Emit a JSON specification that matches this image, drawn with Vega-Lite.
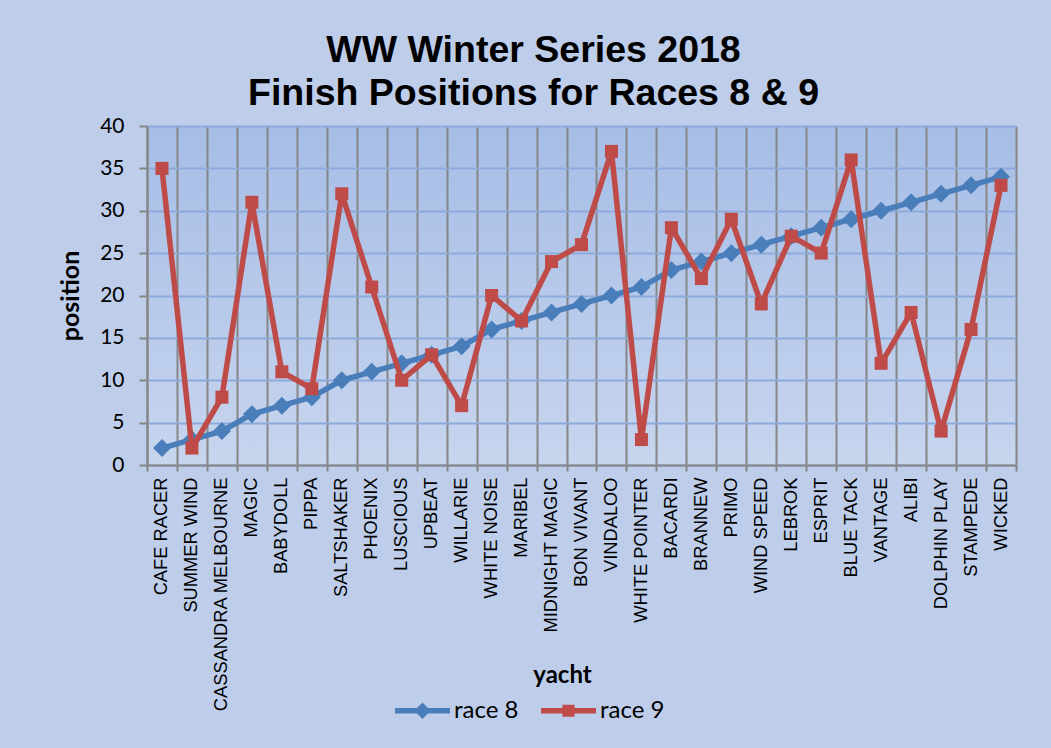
{
  "$schema": "https://vega.github.io/schema/vega-lite/v6.json",
  "width": 869,
  "height": 339,
  "autosize": "none",
  "padding": {"left": 147, "top": 126, "right": 35, "bottom": 283},
  "background": "#bdcdea",
  "title": {
    "text": ["WW Winter Series 2018", "Finish Positions for Races 8 & 9"],
    "font": "Liberation Sans",
    "fontSize": 37.5,
    "fontWeight": "bold",
    "color": "#000000",
    "lineHeight": 43,
    "anchor": "middle",
    "frame": "group",
    "dx": -48,
    "offset": 3
  },
  "config": {
    "view": {
      "stroke": null,
      "fill": {
        "gradient": "linear",
        "x1": 0, "y1": 0, "x2": 0, "y2": 1,
        "stops": [
          {"offset": 0, "color": "#a6bde6"},
          {"offset": 1, "color": "#c7d5ee"}
        ]
      }
    },
    "legend": {
      "orient": "none",
      "legendX": 248,
      "legendY": 557,
      "direction": "horizontal",
      "labelFont": "Lato",
      "labelFontSize": 24,
      "labelColor": "#000000",
      "symbolSize": 3025,
      "symbolOpacity": 1,
      "symbolStrokeWidth": 0,
      "labelOffset": 4,
      "columnPadding": 22
    }
  },
  "data": {
    "values": [
      {"yacht": "CAFE RACER", "race": "race 8", "position": 2},
      {"yacht": "SUMMER WIND", "race": "race 8", "position": 3},
      {"yacht": "CASSANDRA MELBOURNE", "race": "race 8", "position": 4},
      {"yacht": "MAGIC", "race": "race 8", "position": 6},
      {"yacht": "BABYDOLL", "race": "race 8", "position": 7},
      {"yacht": "PIPPA", "race": "race 8", "position": 8},
      {"yacht": "SALTSHAKER", "race": "race 8", "position": 10},
      {"yacht": "PHOENIX", "race": "race 8", "position": 11},
      {"yacht": "LUSCIOUS", "race": "race 8", "position": 12},
      {"yacht": "UPBEAT", "race": "race 8", "position": 13},
      {"yacht": "WILLARIE", "race": "race 8", "position": 14},
      {"yacht": "WHITE NOISE", "race": "race 8", "position": 16},
      {"yacht": "MARIBEL", "race": "race 8", "position": 17},
      {"yacht": "MIDNIGHT MAGIC", "race": "race 8", "position": 18},
      {"yacht": "BON VIVANT", "race": "race 8", "position": 19},
      {"yacht": "VINDALOO", "race": "race 8", "position": 20},
      {"yacht": "WHITE POINTER", "race": "race 8", "position": 21},
      {"yacht": "BACARDI", "race": "race 8", "position": 23},
      {"yacht": "BRANNEW", "race": "race 8", "position": 24},
      {"yacht": "PRIMO", "race": "race 8", "position": 25},
      {"yacht": "WIND SPEED", "race": "race 8", "position": 26},
      {"yacht": "LEBROK", "race": "race 8", "position": 27},
      {"yacht": "ESPRIT", "race": "race 8", "position": 28},
      {"yacht": "BLUE TACK", "race": "race 8", "position": 29},
      {"yacht": "VANTAGE", "race": "race 8", "position": 30},
      {"yacht": "ALIBI", "race": "race 8", "position": 31},
      {"yacht": "DOLPHIN PLAY", "race": "race 8", "position": 32},
      {"yacht": "STAMPEDE", "race": "race 8", "position": 33},
      {"yacht": "WICKED", "race": "race 8", "position": 34},
      {"yacht": "CAFE RACER", "race": "race 9", "position": 35},
      {"yacht": "SUMMER WIND", "race": "race 9", "position": 2},
      {"yacht": "CASSANDRA MELBOURNE", "race": "race 9", "position": 8},
      {"yacht": "MAGIC", "race": "race 9", "position": 31},
      {"yacht": "BABYDOLL", "race": "race 9", "position": 11},
      {"yacht": "PIPPA", "race": "race 9", "position": 9},
      {"yacht": "SALTSHAKER", "race": "race 9", "position": 32},
      {"yacht": "PHOENIX", "race": "race 9", "position": 21},
      {"yacht": "LUSCIOUS", "race": "race 9", "position": 10},
      {"yacht": "UPBEAT", "race": "race 9", "position": 13},
      {"yacht": "WILLARIE", "race": "race 9", "position": 7},
      {"yacht": "WHITE NOISE", "race": "race 9", "position": 20},
      {"yacht": "MARIBEL", "race": "race 9", "position": 17},
      {"yacht": "MIDNIGHT MAGIC", "race": "race 9", "position": 24},
      {"yacht": "BON VIVANT", "race": "race 9", "position": 26},
      {"yacht": "VINDALOO", "race": "race 9", "position": 37},
      {"yacht": "WHITE POINTER", "race": "race 9", "position": 3},
      {"yacht": "BACARDI", "race": "race 9", "position": 28},
      {"yacht": "BRANNEW", "race": "race 9", "position": 22},
      {"yacht": "PRIMO", "race": "race 9", "position": 29},
      {"yacht": "WIND SPEED", "race": "race 9", "position": 19},
      {"yacht": "LEBROK", "race": "race 9", "position": 27},
      {"yacht": "ESPRIT", "race": "race 9", "position": 25},
      {"yacht": "BLUE TACK", "race": "race 9", "position": 36},
      {"yacht": "VANTAGE", "race": "race 9", "position": 12},
      {"yacht": "ALIBI", "race": "race 9", "position": 18},
      {"yacht": "DOLPHIN PLAY", "race": "race 9", "position": 4},
      {"yacht": "STAMPEDE", "race": "race 9", "position": 16},
      {"yacht": "WICKED", "race": "race 9", "position": 33}
    ]
  },
  "encoding": {
    "x": {
      "field": "yacht",
      "type": "nominal",
      "sort": null,
      "scale": {"type": "band", "paddingInner": 0, "paddingOuter": 0},
      "axis": {
        "title": "yacht",
        "titleFont": "Lato",
        "titleFontSize": 24,
        "titleFontWeight": "bold",
        "titleColor": "#000000",
        "titleX": 415,
        "titleY": 210,
        "titleAlign": "center",
        "titleBaseline": "middle",
        "labelAngle": -90,
        "labelFont": "Liberation Sans",
        "labelFontSize": 18.3,
        "labelColor": "#000000",
        "labelPadding": 6,
        "labelLimit": 400,
        "labelOverlap": false,
        "tickBand": "extent",
        "tickSize": 6,
        "tickColor": "#868686",
        "tickWidth": 2,
        "domainColor": "#868686",
        "domainWidth": 2,
        "grid": true,
        "gridColor": "#868686",
        "gridWidth": 2
      }
    },
    "y": {
      "field": "position",
      "type": "quantitative",
      "scale": {"domain": [0, 40], "nice": false},
      "axis": {
        "title": "position",
        "titleFont": "Lato",
        "titleFontSize": 25,
        "titleFontWeight": "bold",
        "titleColor": "#000000",
        "titlePadding": 16,
        "values": [0, 5, 10, 15, 20, 25, 30, 35, 40],
        "labelFont": "Lato",
        "labelFontSize": 21,
        "labelColor": "#000000",
        "labelPadding": 15,
        "tickSize": 8,
        "tickColor": "#868686",
        "tickWidth": 2,
        "domainColor": "#868686",
        "domainWidth": 2,
        "grid": true,
        "gridColor": "#8eaadb",
        "gridWidth": 2
      }
    },
    "color": {
      "field": "race",
      "type": "nominal",
      "title": null,
      "scale": {"domain": ["race 8", "race 9"], "range": ["#4a7ebb", "#be4b48"]}
    }
  },
  "layer": [
    {
      "transform": [{"filter": "datum.race === 'race 8'"}],
      "mark": {"type": "line", "strokeWidth": 5.5, "strokeJoin": "round", "strokeCap": "round"}
    },
    {
      "transform": [{"filter": "datum.race === 'race 8'"}],
      "mark": {"type": "point", "filled": true, "opacity": 1, "shape": "diamond", "size": 324}
    },
    {
      "transform": [{"filter": "datum.race === 'race 9'"}],
      "mark": {"type": "line", "strokeWidth": 5.5, "strokeJoin": "round", "strokeCap": "round"}
    },
    {
      "transform": [{"filter": "datum.race === 'race 9'"}],
      "mark": {"type": "point", "filled": true, "opacity": 1, "shape": "square", "size": 169}
    },
    {
      "mark": {"type": "point", "filled": true, "opacity": 0},
      "encoding": {
        "shape": {
          "field": "race",
          "type": "nominal",
          "title": null,
          "scale": {
            "domain": ["race 8", "race 9"],
            "range": [
              "M-1,-0.1L1,-0.1L1,0.1L-1,0.1Z M0,-0.3L0.3,0L0,0.3L-0.3,0Z",
              "M-1,-0.1L1,-0.1L1,0.1L-1,0.1Z M-0.22,-0.22L0.22,-0.22L0.22,0.22L-0.22,0.22Z"
            ]
          }
        }
      }
    }
  ]
}
